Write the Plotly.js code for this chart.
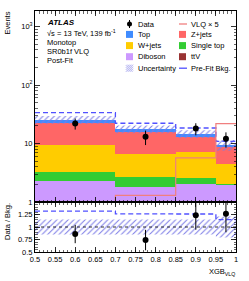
<!DOCTYPE html>
<html><head><meta charset="utf-8">
<script src="https://cdn.plot.ly/plotly-3.0.1.min.js"></script>
<style>html,body{margin:0;padding:0;background:#fff;}#plot{width:249px;height:281px;}</style>
</head><body><div id="plot"></div>
<script>
// ---- data ----
const binEdges   = [0.5, 0.7, 0.85, 0.95, 1.0];
const binCenters = [0.6, 0.775, 0.9, 0.975];
const binWidths  = [0.2, 0.15, 0.1, 0.05];
const diboson    = [2.27, 1.80, 2.00, 1.98];
const singleTop  = [1.03, 0.87, 0.60, 0.05];
const ttV        = [0, 0, 0, 0];
const wjets      = [6.1, 4.05, 4.56, 2.37];
const zjets      = [13.0, 8.78, 5.84, 4.3];
const topBkg     = [3.2, 2.1, 1.6, 0.8];
const dataVals   = [22, 13, 18, 12];
const dataErr    = [4.7, 3.6, 4.2, 3.5];
const relUnc     = [0.15, 0.15, 0.15, 0.21];
const preFit     = [33.7, 22.2, 18.4, 10.9];
const vlqX5      = [0.6, 1.3, 5.7, 21.9];
const xTickVals  = [0.5,0.55,0.6,0.65,0.7,0.75,0.8,0.85,0.9,0.95,1];
const xTickText  = ['0.5','0.55','0.6','0.65','0.7','0.75','0.8','0.85','0.9','0.95','1'];
const yTickVals  = [1, 10, 100, 1000];
const yTickText  = ['1', '10', '10<sup>2</sup>', '10<sup>3</sup>'];
const rTickVals  = [0.5, 0.75, 1, 1.25];
const rTickText  = ['0.5', '0.75', '1', '1.25'];

const C = {top:'#3f8cff', z:'#ff6666', w:'#ffcc00', st:'#33cc33', db:'#cc99ff', ttv:'#993333',
           vlq:'#f07f7f', pre:'#5050ff', unc:'#7b7be6'};
const FONT = 'Liberation Sans, Arial, Helvetica, sans-serif';

const total = binCenters.map((_, i) => diboson[i]+singleTop[i]+ttV[i]+wjets[i]+zjets[i]+topBkg[i]);

function stepPoly(lo, hi) {
  const xs = [], ys = [];
  for (let i = 0; i < lo.length; i++) { xs.push(binEdges[i], binEdges[i+1]); ys.push(hi[i], hi[i]); }
  for (let i = lo.length-1; i >= 0; i--) { xs.push(binEdges[i+1], binEdges[i]); ys.push(lo[i], lo[i]); }
  xs.push(xs[0]); ys.push(ys[0]);
  return {x: xs, y: ys};
}
function stepLine(v) { return {x: binEdges.slice(), y: v.concat([v[v.length-1]])}; }

function bar(vals, color, name) {
  return {type:'bar', x: binCenters, y: vals, width: binWidths, name, marker:{color, line:{width:0}},
          xaxis:'x', yaxis:'y', hoverinfo:'skip'};
}
const traces = [
  bar(diboson, C.db, 'Diboson'),
  bar(singleTop, C.st, 'Single top'),
  bar(ttV, C.ttv, 'ttV'),
  bar(wjets, C.w, 'W+jets'),
  bar(zjets, C.z, 'Z+jets'),
  bar(topBkg, C.top, 'Top'),
];
const bandMain = stepPoly(total.map((t,i)=>t*(1-relUnc[i])), total.map((t,i)=>t*(1+relUnc[i])));
traces.push({type:'scatter', mode:'lines', x: bandMain.x, y: bandMain.y, fill:'toself',
  fillcolor:'rgba(0,0,0,0)', fillpattern:{shape:'/', fgcolor:C.unc, bgcolor:'rgba(0,0,0,0)', size:4, solidity:0.25},
  line:{width:0}, xaxis:'x', yaxis:'y'});
const pf = stepLine(preFit);
traces.push({type:'scatter', mode:'lines', x: pf.x, y: pf.y, line:{shape:'hv', color:C.pre, width:1.3, dash:'5px,3px'}, xaxis:'x', yaxis:'y'});
const vl = stepLine(vlqX5);
traces.push({type:'scatter', mode:'lines', x: vl.x, y: vl.y, line:{shape:'hv', color:C.vlq, width:1.2}, xaxis:'x', yaxis:'y'});
traces.push({type:'scatter', mode:'markers', x: binCenters, y: dataVals,
  error_y:{type:'data', array: dataErr, color:'#000', thickness:1, width:0},
  marker:{color:'#000', size:6}, xaxis:'x', yaxis:'y'});

// ratio panel
const bandR = stepPoly(relUnc.map(r=>1-r), relUnc.map(r=>1+r));
traces.push({type:'scatter', mode:'lines', x: bandR.x, y: bandR.y, fill:'toself',
  fillcolor:'rgba(0,0,0,0)', fillpattern:{shape:'/', fgcolor:C.unc, bgcolor:'rgba(0,0,0,0)', size:4, solidity:0.25},
  line:{width:0}, xaxis:'x2', yaxis:'y2'});
traces.push({type:'scatter', mode:'lines', x:[binEdges[0], binEdges[binEdges.length-1]], y:[1,1],
  line:{color:'#000', width:0.8, dash:'dot'}, xaxis:'x2', yaxis:'y2'});
const pfr = stepLine(preFit.map((p,i)=>p/total[i]));
traces.push({type:'scatter', mode:'lines', x: pfr.x, y: pfr.y, line:{shape:'hv', color:C.pre, width:1.3, dash:'5px,3px'}, xaxis:'x2', yaxis:'y2'});
traces.push({type:'scatter', mode:'markers', x: binCenters, y: dataVals.map((d,i)=>d/total[i]),
  error_y:{type:'data', array: dataErr.map((e,i)=>e/total[i]), color:'#000', thickness:1, width:0},
  marker:{color:'#000', size:6}, xaxis:'x2', yaxis:'y2'});

// pixel -> paper helpers (plot area: x 35..236, y 11..252)
const L = 35, R = 13, T = 11, B = 29, W = 249, H = 281;
const pw = W-L-R, ph = H-T-B;
const px = x => (x-L)/pw, py = y => (H-B-y)/ph;
const ratioFrac = (252-202)/ph;

const minorLog = [];
[1,10,100].forEach(d => { for (let k=2;k<=9;k++) minorLog.push(k*d); });

const axBase = {showline:true, linecolor:'#000', linewidth:1, mirror:'allticks', ticks:'inside',
  ticklen:5, tickcolor:'#000', tickwidth:0.8, zeroline:false, showgrid:false,
  tickfont:{family:FONT, size:7.5, color:'#000'}};

const annotations = [];
const shapes = [];
function txt(x, y, text, opts={}) {
  annotations.push(Object.assign({xref:'paper', yref:'paper', x:px(x), y:py(y), text, showarrow:false,
    xanchor:'left', yanchor:'middle', font:{family:FONT, size:7.5, color:'#000'}}, opts));
}
txt(45, 22.7, '<b><i>ATLAS</i></b>', {font:{family:FONT, size:8, color:'#000'}});
txt(45, 33.3, '√s = 13 TeV, 139 fb<sup>-1</sup>');
txt(45, 42.7, 'Monotop');
txt(45, 51.7, 'SR0b1f VLQ');
txt(45, 60.6, 'Post-Fit');
txt(7, 10, 'Events', {textangle:-90, xanchor:'center', yanchor:'top'});
txt(7, 222, 'Data / Bkg.', {textangle:-90, xanchor:'center', yanchor:'middle'});
txt(237, 272, 'XGB<sub>VLQ</sub>', {xanchor:'right'});

// legend (drawn)
const rows = [24, 34.4, 45.6, 56.7, 68.2];
const c1 = 126, c2 = 179, sw = 7;
function box(x, yc, color) {
  shapes.push({type:'rect', xref:'paper', yref:'paper', x0:px(x), x1:px(x+sw), y0:py(yc+sw/2), y1:py(yc-sw/2), fillcolor:color, line:{width:0}});
}
function hline(x, yc, color, dash) {
  shapes.push({type:'line', xref:'paper', yref:'paper', x0:px(x), x1:px(x+sw+1), y0:py(yc), y1:py(yc), line:{color, width:1.3, dash: dash||'solid'}});
}
// Data
shapes.push({type:'line', xref:'paper', yref:'paper', x0:px(c1+3.5), x1:px(c1+3.5), y0:py(rows[0]-4), y1:py(rows[0]+4), line:{color:'#000', width:1}});
shapes.push({type:'circle', xref:'paper', yref:'paper', x0:px(c1+1), x1:px(c1+6), y0:py(rows[0]+2.5), y1:py(rows[0]-2.5), fillcolor:'#000', line:{width:0}});
txt(c1+10, rows[0], 'Data');
box(c1, rows[1], C.top); txt(c1+10, rows[1], 'Top');
box(c1, rows[2], C.w); txt(c1+10, rows[2], 'W+jets');
box(c1, rows[3], C.db); txt(c1+10, rows[3], 'Diboson');
// uncertainty hatched swatch
{
  const bx = c1, by = rows[4]-sw/2;
  for (let d = -6; d <= 6; d += 2) {
    const u1 = Math.max(0, -d), u2 = Math.min(sw, sw-d);
    shapes.push({type:'line', xref:'paper', yref:'paper', x0:px(bx+u1), y0:py(by+sw-(u1+d)), x1:px(bx+u2), y1:py(by+sw-(u2+d)), line:{color:C.unc, width:0.7}});
  }
}
txt(c1+10, rows[4], 'Uncertainty');
hline(c2, rows[0], C.vlq); txt(c2+10, rows[0], 'VLQ × 5');
box(c2, rows[1], C.z); txt(c2+10, rows[1], 'Z+jets');
box(c2, rows[2], C.st); txt(c2+10, rows[2], 'Single top');
box(c2, rows[3], C.ttv); txt(c2+10, rows[3], 'ttV');
hline(c2, rows[4], C.pre); txt(c2+10, rows[4], 'Pre-Fit Bkg.');

const layout = {
  width: W, height: H, margin:{l:L, r:R, t:T, b:B, pad:0},
  paper_bgcolor:'#fff', plot_bgcolor:'#fff', showlegend:false, barmode:'stack', bargap:0,
  font:{family:FONT, size:7.5, color:'#000'},
  xaxis: Object.assign({}, axBase, {domain:[0,1], anchor:'y', range:[0.5,1], tickmode:'array', tickvals:xTickVals,
    showticklabels:false, minor:{dtick:0.01, tick0:0.5, ticklen:2.5, ticks:'inside', tickcolor:'#000', tickwidth:0.6}}),
  yaxis: Object.assign({}, axBase, {domain:[ratioFrac,1], anchor:'x', type:'log', range:[0, 3.265],
    tickmode:'array', tickvals:yTickVals, ticktext:yTickText,
    minor:{tickmode:'array', tickvals:minorLog, ticklen:2.5, ticks:'inside', tickcolor:'#000', tickwidth:0.6}}),
  xaxis2: Object.assign({}, axBase, {domain:[0,1], anchor:'y2', range:[0.5,1], tickmode:'array', tickvals:xTickVals, ticktext:xTickText,
    tickangle:0, minor:{dtick:0.01, tick0:0.5, ticklen:2.5, ticks:'inside', tickcolor:'#000', tickwidth:0.6}}),
  yaxis2: Object.assign({}, axBase, {domain:[0,ratioFrac], anchor:'x2', range:[0.5,1.5], tickmode:'array', tickvals:rTickVals, ticktext:rTickText,
    minor:{dtick:0.05, tick0:0.5, ticklen:2.5, ticks:'inside', tickcolor:'#000', tickwidth:0.6}}),
  annotations, shapes
};
Plotly.newPlot('plot', traces, layout, {staticPlot:true, displayModeBar:false});
</script></body></html>
